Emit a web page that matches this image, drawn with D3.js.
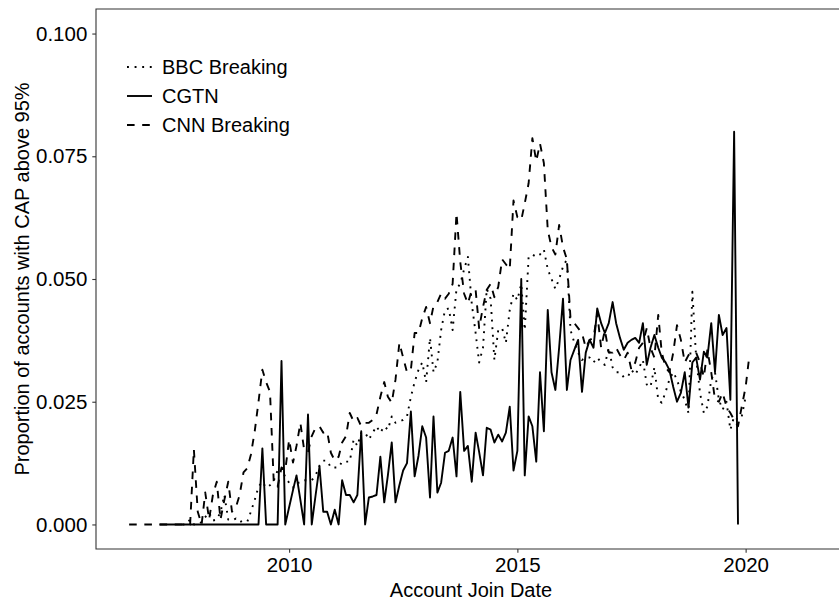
<!DOCTYPE html>
<html>
<head>
<meta charset="utf-8">
<script src="https://cdn.jsdelivr.net/npm/d3@7"></script>
<style>
  body { margin: 0; background: #fff; overflow: hidden; }
  text { font-family: "Liberation Sans", Arial, sans-serif; }
</style>
</head>
<body>
<div id="chart"></div>
<script>
// series: one value per month, starting at the given month
var bbcStart = "2007-09";
var bbcValues = [
  0, 0, 0.001, 0, 0, 0.0005, 0.0015, 0.0024, 0.0008, 0.001,
  0.0025, 0.006, 0.001, 0.0008, 0.0012, 0.0005, 0.0008, 0.0006, 0.0026, 0.005,
  0.0077, 0.0087, 0.0075, 0.008, 0.009, 0.011, 0.0116, 0.0096, 0.0085, 0.0075,
  0.0085, 0.0085, 0.009, 0.009, 0.009, 0.010, 0.012, 0.013, 0.013, 0.0116,
  0.0116, 0.0116, 0.0128, 0.0128, 0.0128, 0.0173, 0.016, 0.0187, 0.0187, 0.0173,
  0.0187, 0.020, 0.0187, 0.020, 0.0193, 0.022, 0.0207, 0.021, 0.0213, 0.022,
  0.026, 0.029, 0.0315, 0.033, 0.029, 0.038, 0.031, 0.033, 0.0396, 0.0437,
  0.044, 0.0396, 0.048, 0.049, 0.052, 0.0545, 0.045, 0.039, 0.033, 0.036,
  0.048, 0.046, 0.0335, 0.0396, 0.040, 0.037, 0.0437, 0.047, 0.0457, 0.049,
  0.0396, 0.0545, 0.055, 0.0545, 0.055, 0.056, 0.052, 0.050, 0.048, 0.050,
  0.0525, 0.054, 0.0396, 0.037, 0.035, 0.0335, 0.034, 0.034, 0.033, 0.034,
  0.033, 0.0325, 0.036, 0.032, 0.031, 0.031, 0.030, 0.030, 0.0315, 0.0305,
  0.032, 0.0335, 0.0285, 0.028, 0.032, 0.0254, 0.0248, 0.027, 0.0295, 0.031,
  0.0295, 0.027, 0.0254, 0.0227, 0.0474, 0.034, 0.0268, 0.0227, 0.024, 0.0295,
  0.031, 0.0254, 0.0234, 0.025, 0.0193, 0.022, 0.0213, 0.022, 0.026
];

var cgtnStart = "2007-03";
var cgtnValues = [
  0, 0, 0, 0, 0, 0, 0, 0, 0, 0,
  0, 0, 0, 0, 0, 0, 0, 0, 0, 0,
  0, 0, 0, 0, 0, 0, 0, 0.0155, 0, 0,
  0, 0, 0.0333, 0,
  0.0035, 0.007, 0.010, 0.005, 0, 0.0224, 0, 0.006, 0.0118, 0.0026,
  0.0026, 0, 0.003, 0, 0.009, 0.006, 0.006, 0.0045, 0.006, 0.019,
  0, 0.0055, 0.0057, 0.006, 0.0138, 0.0045, 0.010, 0.0167, 0.0045, 0.008,
  0.011, 0.0125, 0.023, 0.0098, 0.014, 0.020, 0.0177, 0.0055, 0.022, 0.0065,
  0.0085, 0.0146, 0.015, 0.0177, 0.0098, 0.027, 0.015, 0.016, 0.0087, 0.0187,
  0.0148, 0.010, 0.0197, 0.0193, 0.0167, 0.0183, 0.0169, 0.0187, 0.024, 0.011,
  0.015, 0.050, 0.010, 0.022, 0.020, 0.0128, 0.031, 0.019, 0.0437, 0.031,
  0.0274, 0.036, 0.046, 0.0274, 0.0335, 0.0356, 0.0376, 0.027, 0.035, 0.0376,
  0.036, 0.044, 0.041, 0.039, 0.041, 0.0453, 0.041, 0.038, 0.0356, 0.037,
  0.0376, 0.038, 0.037, 0.041, 0.0325, 0.036, 0.0386, 0.036, 0.034, 0.033,
  0.0315, 0.028, 0.025, 0.0268, 0.031, 0.0238, 0.033, 0.034, 0.0295, 0.0352,
  0.034, 0.041, 0.031, 0.0427, 0.0386, 0.040, 0.0254, 0.080, 0
];

var cnnStart = "2006-07";
var cnnValues = [
  0, 0, 0, 0, 0, 0, 0, 0, 0, 0,
  0, 0, 0, 0, 0, 0, 0,
  0.0153, 0.0026, 0, 0.0065, 0.001, 0.006, 0.0087, 0.001, 0.005, 0.0087,
  0.0026, 0.0035, 0.006, 0.0106, 0.0115, 0.0142, 0.019, 0.025, 0.0315, 0.029,
  0.027, 0.008, 0.0077, 0.0116, 0.011, 0.0173, 0.0126, 0.016, 0.0207, 0.0152,
  0.0147, 0.018, 0.0197, 0.020, 0.0187, 0.019, 0.0146, 0.013, 0.0138, 0.0167,
  0.018, 0.0227, 0.021, 0.0217, 0.020, 0.0207, 0.0207, 0.0213, 0.0224, 0.026,
  0.029, 0.026, 0.0248, 0.0295, 0.037, 0.034, 0.031, 0.0315, 0.039, 0.039,
  0.042, 0.0443, 0.041, 0.0445, 0.0453, 0.047, 0.046, 0.047, 0.049, 0.0634,
  0.0535, 0.047, 0.045, 0.0478, 0.0478, 0.040, 0.0443, 0.0478, 0.049, 0.0463,
  0.0484, 0.054, 0.053, 0.052, 0.066, 0.0626, 0.062, 0.0654, 0.0695, 0.0787,
  0.074, 0.0776, 0.0736, 0.060, 0.0565, 0.055, 0.061, 0.0565, 0.054, 0.042,
  0.041, 0.040, 0.039, 0.036, 0.0376, 0.038, 0.043, 0.036, 0.0396, 0.035,
  0.035, 0.036, 0.0345, 0.0335, 0.035, 0.0315, 0.033, 0.036, 0.037, 0.040,
  0.036, 0.034, 0.0427, 0.035, 0.032, 0.031, 0.035, 0.0406, 0.0376, 0.033,
  0.0345, 0.035, 0.035, 0.033, 0.030, 0.0356, 0.031, 0.0254, 0.025, 0.0268,
  0.024, 0.0227, 0.0213, 0.020, 0.024, 0.028, 0.0346
];

var seriesNames = ["BBC Breaking", "CGTN", "CNN Breaking"];
var xTickYears = [2010, 2015, 2020];
var yTicks = [0, 0.025, 0.05, 0.075, 0.1];

//setting dimensions and margins (panel runs past the right edge of the picture)
var margin = {top: 9, left: 96},
    width = 750,
    height = 540;

var svg = d3.select("#chart")
  .append("svg")
  .attr("width", 839)
  .attr("height", 603)
  .style("display", "block");

var g = svg.append("g")
  .attr("transform", "translate(" + margin.left + "," + margin.top + ")");

var parseMonth = d3.timeParse("%Y-%m");

//turning a start month + values into points
function toPoints(start, values) {
  var d0 = parseMonth(start);
  return values.map(function(v, i) {
    return {date: d3.timeMonth.offset(d0, i), value: v};
  });
}

var series = [
  {name: seriesNames[0], dash: "1.9,5.7", points: toPoints(bbcStart, bbcValues)},
  {name: seriesNames[1], dash: null, points: toPoints(cgtnStart, cgtnValues)},
  {name: seriesNames[2], dash: "7.6,7.6", points: toPoints(cnnStart, cnnValues)}
];

//scales
var xScale = d3.scaleTime()
  .domain([new Date(2005, 9, 9), new Date(2022, 2, 14)])
  .range([0, width]);

var yScale = d3.scaleLinear()
  .domain([-0.005, 0.105])
  .range([height, 0]);

//x axis
var xAxis = g.append("g")
  .attr("transform", "translate(0," + height + ")")
  .call(d3.axisBottom(xScale)
    .tickValues(xTickYears.map(function(y) { return new Date(y, 0, 1); }))
    .tickFormat(d3.timeFormat("%Y"))
    .tickSize(3.7)
    .tickPadding(4.5));

//y axis
var yAxis = g.append("g")
  .call(d3.axisLeft(yScale)
    .tickValues(yTicks)
    .tickFormat(d3.format(".3f"))
    .tickSize(3.7)
    .tickPadding(5));

[xAxis, yAxis].forEach(function(ax) {
  ax.select(".domain").remove();
  ax.selectAll(".tick line").attr("stroke", "#333333").attr("stroke-width", 1.1);
  ax.selectAll(".tick text")
    .attr("fill", "#000")
    .style("font-size", "20.5px")
    .style("font-family", "'Liberation Sans', Arial, sans-serif");
});

//lines
var line = d3.line()
  .x(function(d) { return xScale(d.date); })
  .y(function(d) { return yScale(d.value); });

g.append("g")
  .selectAll(".series")
  .data(series)
  .enter().append("path")
  .attr("class", "series")
  .attr("d", function(d) { return line(d.points); })
  .attr("fill", "none")
  .attr("stroke", "#000")
  .attr("stroke-width", 1.9)
  .attr("stroke-linejoin", "round")
  .attr("stroke-dasharray", function(d) { return d.dash; });

//panel border: only top, left and bottom sit inside the picture
var border = d3.path();
border.moveTo(width, 0);
border.lineTo(0, 0);
border.lineTo(0, height);
border.lineTo(width, height);
g.append("path")
  .attr("d", border.toString())
  .attr("fill", "none")
  .attr("stroke", "#333333")
  .attr("stroke-width", 1.1);

//legend (inside panel, top left)
var legend = g.append("g").attr("transform", "translate(31,58)");
var rows = legend.selectAll(".key")
  .data(series)
  .enter().append("g")
  .attr("transform", function(d, i) { return "translate(0," + (i * 29) + ")"; });

rows.append("line")
  .attr("x1", 0).attr("x2", 25)
  .attr("stroke", "#000")
  .attr("stroke-width", 1.9)
  .attr("stroke-dasharray", function(d) { return d.dash; });

rows.append("text")
  .attr("x", 35)
  .attr("dy", "0.35em")
  .style("font-size", "20px")
  .text(function(d) { return d.name; });

//axis titles
svg.append("text")
  .attr("x", margin.left + width / 2)
  .attr("y", 597)
  .attr("text-anchor", "middle")
  .style("font-size", "20px")
  .text("Account Join Date");

svg.append("text")
  .attr("transform", "translate(29," + (margin.top + height / 2) + ") rotate(-90)")
  .attr("text-anchor", "middle")
  .style("font-size", "20px")
  .text("Proportion of accounts with CAP above 95%");
</script>
</body>
</html>
